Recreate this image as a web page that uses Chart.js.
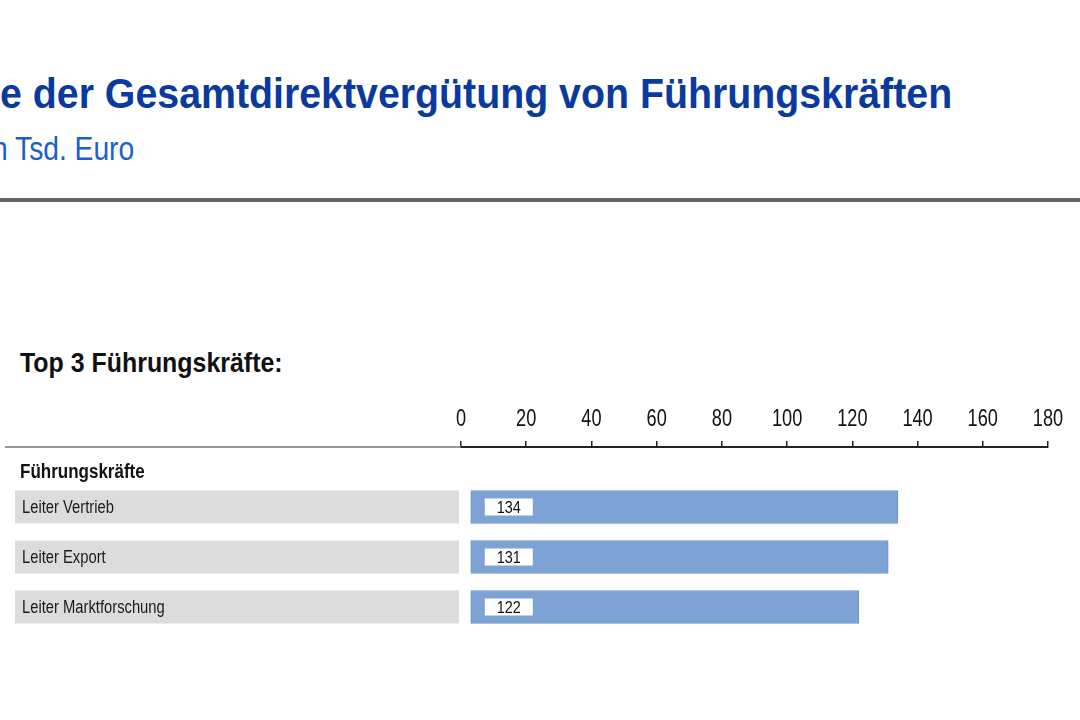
<!DOCTYPE html>
<html>
<head>
<meta charset="utf-8">
<script src="https://cdn.jsdelivr.net/npm/chart.js@4"></script>
<style>
  html, body { margin: 0; padding: 0; background: #fff; }
  #page { position: relative; width: 1080px; height: 720px; overflow: hidden; }
  .title { position: absolute; left: 0; top: 69px; white-space: nowrap; font: bold 43px 'Liberation Sans', Arial, sans-serif; color: #0b3a9e; transform: scaleX(0.914); transform-origin: left top; }
  .subtitle { position: absolute; left: -8px; top: 130px; white-space: nowrap; font: 33px 'Liberation Sans', Arial, sans-serif; color: #1c5ed0; transform: scaleX(0.855); transform-origin: left top; }
  .rule { position: absolute; left: 0; top: 198px; width: 1080px; height: 4px; background: #666; }
  .top3 { position: absolute; left: 20px; top: 347px; white-space: nowrap; font: bold 28px 'Liberation Sans', Arial, sans-serif; color: #111; transform: scaleX(0.89); transform-origin: left top; }
  #chart { position: absolute; left: 0; top: 380px; }
</style>
</head>
<body>
<div id="page">
  <div class="title">e der Gesamtdirektvergütung von Führungskräften</div>
  <div class="subtitle">n Tsd. Euro</div>
  <div class="rule"></div>
  <div class="top3">Top 3 Führungskräfte:</div>
  <canvas id="chart" width="1080" height="340"></canvas>
</div>
<script>
const categories = ['Leiter Vertrieb', 'Leiter Export', 'Leiter Marktforschung'];
const values = [134, 131, 122];
const tickValues = [0, 20, 40, 60, 80, 100, 120, 140, 160, 180];
const headerLabel = 'Führungskräfte';

const FONT = "'Liberation Sans', Arial, sans-serif";

// no narrow font installed, so squeeze text horizontally
function narrowText(ctx, text, x, y, sx, align) {
  ctx.save();
  ctx.translate(x, y);
  ctx.scale(sx, 1);
  ctx.textAlign = align || 'left';
  ctx.fillText(text, 0, 0);
  ctx.restore();
}

const tablePlugin = {
  id: 'tablePlugin',
  beforeDatasetsDraw(chart) {
    const ctx = chart.ctx;
    const meta = chart.getDatasetMeta(0);
    const xScale = chart.scales.x;
    ctx.save();
    // axis line continues to the left
    ctx.strokeStyle = '#777';
    ctx.lineWidth = 1.5;
    ctx.beginPath();
    ctx.moveTo(5, xScale.bottom);
    ctx.lineTo(chart.chartArea.left, xScale.bottom);
    ctx.stroke();

    // tick labels above the axis
    ctx.fillStyle = '#111';
    ctx.font = '23px ' + FONT;
    ctx.textBaseline = 'middle';
    tickValues.forEach(v => {
      narrowText(ctx, String(v), xScale.getPixelForValue(v), xScale.bottom - 27, 0.79, 'center');
    });

    ctx.font = 'bold 20px ' + FONT;
    narrowText(ctx, headerLabel, 20, chart.chartArea.top - 10, 0.85);

    ctx.font = '18px ' + FONT;
    meta.data.forEach((bar, i) => {
      const h = bar.height;
      ctx.fillStyle = '#dcdcdc';
      ctx.fillRect(15, bar.y - h / 2, 444, h);
      ctx.fillStyle = '#1a1a1a';
      narrowText(ctx, categories[i], 22, bar.y + 1, 0.82);
    });
    ctx.restore();
  },
  afterDatasetsDraw(chart) {
    const ctx = chart.ctx;
    const meta = chart.getDatasetMeta(0);
    ctx.save();
    ctx.font = '17px ' + FONT;
    ctx.textBaseline = 'middle';
    meta.data.forEach((bar, i) => {
      const left = Math.min(bar.x, bar.base) + 14;
      ctx.fillStyle = '#fff';
      ctx.fillRect(left, bar.y - 8.5, 48, 17);
      ctx.fillStyle = '#111';
      narrowText(ctx, String(values[i]), left + 24, bar.y + 1, 0.85, 'center');
    });
    ctx.restore();
  }
};

new Chart(document.getElementById('chart'), {
  type: 'bar',
  data: {
    labels: categories,
    datasets: [{
      data: values,
      base: 3,
      backgroundColor: '#7ca3d4',
      borderColor: '#6b91c7',
      borderWidth: 1,
      borderSkipped: false,
      barThickness: 33
    }]
  },
  options: {
    indexAxis: 'y',
    responsive: false,
    animation: false,
    devicePixelRatio: 1,
    layout: { padding: { left: 461, right: 32, top: 27, bottom: 88 } },
    plugins: { legend: { display: false }, tooltip: { enabled: false } },
    scales: {
      x: {
        type: 'linear',
        position: 'top',
        weight: 1,
        min: 0,
        max: 180,
        afterBuildTicks: s => { s.ticks = tickValues.map(v => ({ value: v })); },
        afterFit: s => { s.height = 40; },
        ticks: { display: false },
        grid: { display: true, drawOnChartArea: false, drawTicks: true, tickLength: 6, color: '#222', lineWidth: 1.5 },
        border: { display: true, color: '#222', width: 2 }
      },
      // empty spacer so the axis sits a bit above the first row
      gap: {
        type: 'linear',
        axis: 'x',
        position: 'top',
        weight: 0,
        afterFit: s => { s.height = 35; },
        ticks: { display: false },
        grid: { display: false },
        border: { display: false }
      },
      y: { display: false }
    }
  },
  plugins: [tablePlugin]
});
</script>
</body>
</html>
